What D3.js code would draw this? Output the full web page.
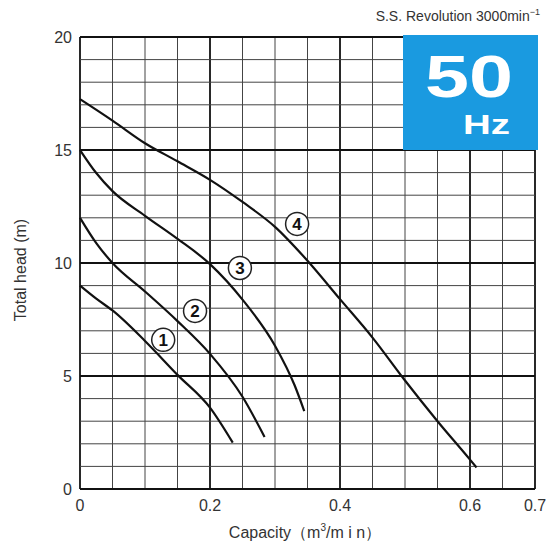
<!DOCTYPE html>
<html><head><meta charset="utf-8">
<script src="https://cdn.jsdelivr.net/npm/d3@7"></script>
<style>body{margin:0;background:#fff}svg{display:block}text{font-family:"Liberation Sans",Arial,sans-serif}</style>
</head><body>
<svg id="c" width="547" height="545"></svg>
<script>
const xTicks = [0, 0.2, 0.4, 0.6, 0.7];
const yTicks = [0, 5, 10, 15, 20];
const curve1 = [[0,9.0],[0.025,8.42],[0.05,7.9],[0.1,6.55],[0.15,5.05],[0.2,3.6],[0.235,2.05]];
const curve2 = [[0,12.0],[0.025,10.88],[0.05,10.0],[0.1,8.74],[0.15,7.43],[0.2,5.98],[0.25,4.08],[0.284,2.3]];
const curve3 = [[0,15.0],[0.025,13.98],[0.05,13.18],[0.1,12.09],[0.15,11.07],[0.2,9.95],[0.25,8.38],[0.3,6.34],[0.33,4.6],[0.345,3.45]];
const curve4 = [[0,17.25],[0.05,16.3],[0.1,15.3],[0.15,14.5],[0.2,13.68],[0.25,12.7],[0.3,11.6],[0.35,10.1],[0.4,8.4],[0.45,6.7],[0.5,4.8],[0.55,3.0],[0.6,1.3],[0.61,0.95]];
const curveLabels = ["1","2","3","4"];
const labelPos = [[0.128,6.6],[0.177,7.88],[0.246,9.78],[0.334,11.73]];

const svg = d3.select("#c");
const x = d3.scaleLinear().domain([0,0.7]).range([80,535]);
const y = d3.scaleLinear().domain([0,20]).range([489,37]);

// grid
const g = svg.append("g");
const xGrid = d3.range(0, 0.7001, 0.05).map(v=>+v.toFixed(2));
const yGrid = d3.range(0, 21, 1);
const isMajX = v => Math.abs(v/0.2 - Math.round(v/0.2))<1e-6 || v===0.7;
const isMajY = v => v%5===0;
g.selectAll("line.v").data(xGrid).join("line")
  .attr("x1",d=>x(d)).attr("x2",d=>x(d)).attr("y1",y(0)).attr("y2",y(20))
  .attr("stroke",d=>isMajX(d)?"#111":"#444").attr("stroke-width",d=>isMajX(d)?1.8:1);
g.selectAll("line.h").data(yGrid).join("line")
  .attr("y1",d=>y(d)).attr("y2",d=>y(d)).attr("x1",x(0)).attr("x2",x(0.7))
  .attr("stroke",d=>isMajY(d)?"#111":"#444").attr("stroke-width",d=>isMajY(d)?1.8:1);

// blue box
svg.append("rect").attr("x",x(0.5)-2).attr("y",y(20)-2).attr("width",x(0.7)-x(0.5)+5).attr("height",y(15)-y(20)+2)
  .attr("fill","#1a9ae0");
svg.append("text").attr("x",x(0.6)-1).attr("y",97).attr("text-anchor","middle")
  .attr("font-size",59).attr("font-weight","bold").attr("fill","#fff")
  .attr("textLength",88).attr("lengthAdjust","spacingAndGlyphs").text("50");
svg.append("text").attr("x",510).attr("y",134).attr("text-anchor","end")
  .attr("font-size",28).attr("font-weight","bold").attr("fill","#fff")
  .attr("textLength",47).attr("lengthAdjust","spacingAndGlyphs").text("Hz");

// curves
const line = d3.line().x(d=>x(d[0])).y(d=>y(d[1])).curve(d3.curveMonotoneX);
[curve1,curve2,curve3,curve4].forEach(c=>{
  svg.append("path").attr("d",line(c)).attr("fill","none").attr("stroke","#111").attr("stroke-width",2.2);
});
// labels
const lg = svg.selectAll("g.lab").data(labelPos).join("g").attr("transform",d=>`translate(${x(d[0])},${y(d[1])})`);
lg.append("circle").attr("r",11.5).attr("fill","#fff").attr("stroke","#222").attr("stroke-width",1.5);
lg.append("text").attr("text-anchor","middle").attr("dy","0.36em").attr("font-size",17).attr("font-weight","bold")
  .attr("fill","#111").text((d,i)=>curveLabels[i]);

// axes labels
svg.append("g").selectAll("text").data(yTicks).join("text")
  .attr("x",72).attr("y",d=>y(d)).attr("dy","0.35em").attr("text-anchor","end")
  .attr("font-size",16).attr("fill","#333").text(d=>d);
svg.append("g").selectAll("text").data(xTicks).join("text")
  .attr("x",d=>x(d)).attr("y",511).attr("text-anchor","middle")
  .attr("font-size",16).attr("fill","#333").text(d=>d);

svg.append("text").attr("transform","translate(26,270) rotate(-90)").attr("text-anchor","middle")
  .attr("font-size",16).attr("fill","#333").text("Total head (m)");

const xt = svg.append("text").attr("x",305).attr("y",538).attr("text-anchor","middle").attr("font-size",16).attr("fill","#333");
xt.append("tspan").text("Capacity（m");
xt.append("tspan").attr("font-size",10).attr("dy",-7).text("3");
xt.append("tspan").attr("dy",7).text("/m i n）");

const rt = svg.append("text").attr("x",540).attr("y",21).attr("text-anchor","end").attr("font-size",14).attr("fill","#333");
rt.append("tspan").text("S.S. Revolution 3000min");
rt.append("tspan").attr("font-size",9).attr("dy",-6).text("−1");
</script>
</body></html>
